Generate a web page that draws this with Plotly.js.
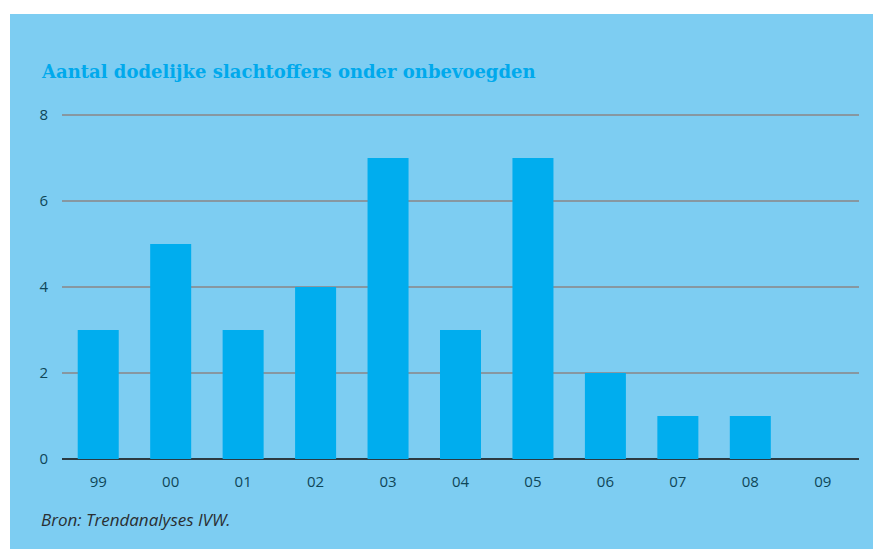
<!DOCTYPE html>
<html>
<head>
<meta charset="utf-8">
<script src="https://cdn.plot.ly/plotly-3.0.1.min.js"></script>
<style>
html,body{margin:0;padding:0;background:#ffffff;width:873px;height:549px;overflow:hidden;}
#chart{position:absolute;left:10px;top:14px;width:863px;height:535px;}
</style>
</head>
<body>
<div id="chart"></div>
<script>
const years = ["99","00","01","02","03","04","05","06","07","08","09"];
const victims = [3,5,3,4,7,3,7,2,1,1,0];
const yTicks = [0,2,4,6,8];
const titleText = "Aantal dodelijke slachtoffers onder onbevoegden";
const sourceText = "Bron: Trendanalyses IVW.";

const W = 863, H = 535, ml = 52, mr = 14, mt = 99, mb = 90;
const pw = W - ml - mr, ph = H - mt - mb;
const pxPerUnit = 43;
const yTop = ph / pxPerUnit;

const trace = {
  type: "bar",
  x: years,
  y: victims,
  marker: {color: "#00adee", line: {width: 0}},
  hoverinfo: "x+y"
};

const layout = {
  width: W, height: H,
  margin: {l: ml, r: mr, t: mt, b: mb, pad: 0},
  paper_bgcolor: "#7dcdf2",
  plot_bgcolor: "#7dcdf2",
  bargap: 0.434,
  showlegend: false,
  xaxis: {
    type: "category",
    showgrid: false,
    zeroline: false,
    showline: false,
    ticks: "",
    ticklabelstandoff: 12,
    tickfont: {family: "Open Sans, sans-serif", size: 15, color: "#0f4658"},
    fixedrange: true
  },
  yaxis: {
    range: [0, yTop],
    tickvals: yTicks,
    ticktext: yTicks.map(String),
    showgrid: true,
    gridcolor: "#8797a1",
    gridwidth: 1.3,
    zeroline: true,
    zerolinecolor: "#2b3a42",
    zerolinewidth: 2,
    showline: false,
    ticks: "",
    ticklabelstandoff: 13,
    tickfont: {family: "Open Sans, sans-serif", size: 15, color: "#0f4658"},
    fixedrange: true
  },
  annotations: [
    {
      text: "<b>" + titleText + "</b>",
      xref: "paper", yref: "paper",
      x: (29 - ml) / pw, y: (H - mb - 57) / ph,
      xanchor: "left", yanchor: "middle",
      showarrow: false,
      font: {family: "DejaVu Serif, serif", size: 18, color: "#00a9ec"}
    },
    {
      text: "<i>" + sourceText + "</i>",
      xref: "paper", yref: "paper",
      x: (29 - ml) / pw, y: (H - mb - 505) / ph,
      xanchor: "left", yanchor: "middle",
      showarrow: false,
      font: {family: "Open Sans, sans-serif", size: 17, color: "#2a2f33"}
    }
  ]
};

Plotly.newPlot("chart", [trace], layout, {displayModeBar: false, staticPlot: true});
</script>
</body>
</html>
